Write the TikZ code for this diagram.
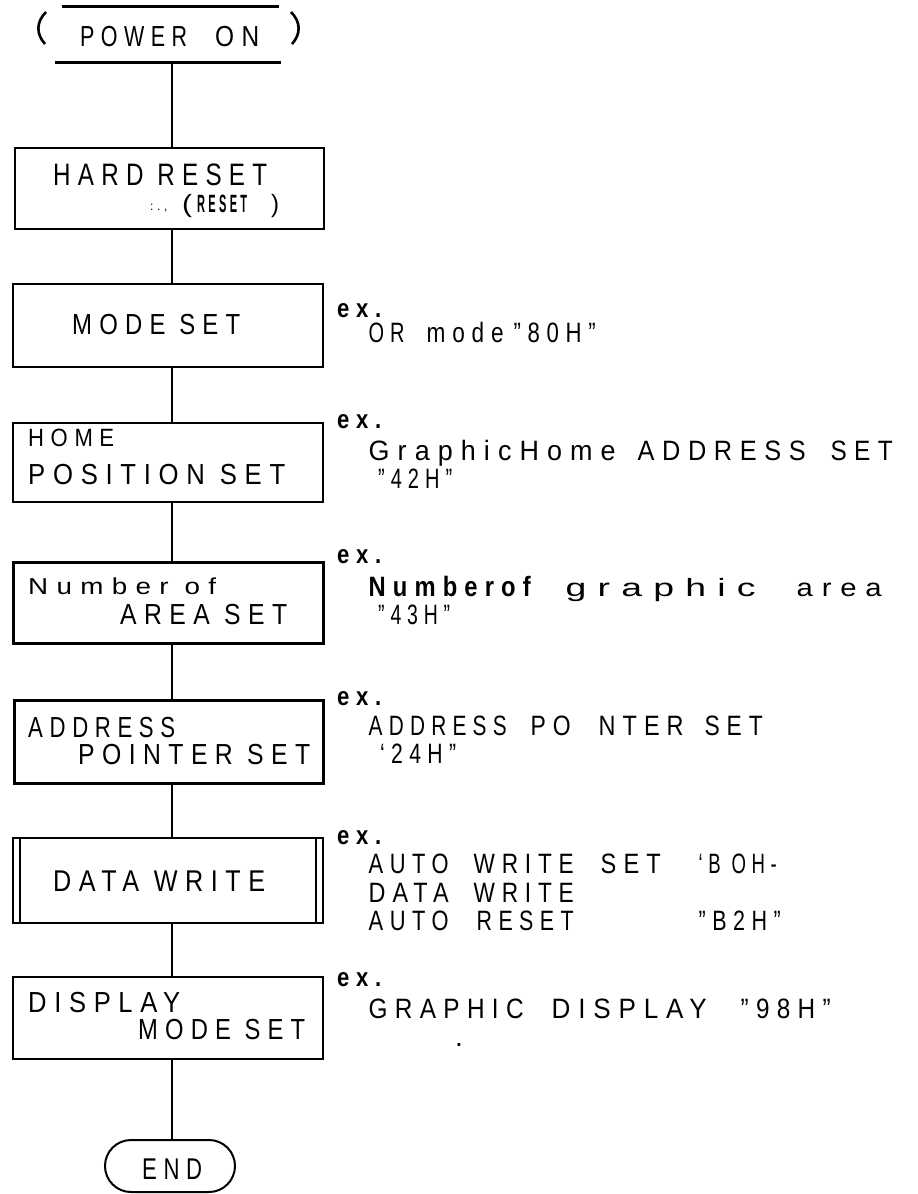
\documentclass[tikz,border=0pt]{standalone}
\usepackage{graphicx}
\usepackage{fontspec}
\setmainfont{Liberation Sans}[LetterSpace=30]
\newcommand\fw[2]{\resizebox{#1pt}{\height}{#2}}
\newcommand\wat[3]{\makebox[0pt][l]{\hspace{#1pt}\fw{#2}{#3}}}
\tikzset{
  flowbox/.style={draw, line width=2pt, inner sep=0pt, rectangle},
  heavybox/.style={flowbox, line width=3pt},
  ghost/.style={inner sep=0pt, rectangle},
  conn/.style={line width=2.2pt},
  bar/.style={line width=3.3pt},
  txt/.style={anchor=base west, inner sep=0pt, font=\fontsize{29}{31}\selectfont},
  ann/.style={anchor=base west, inner sep=0pt, font=\fontsize{28}{30}\selectfont},
  exlbl/.style={anchor=base west, inner sep=0pt, font=\bfseries\fontsize{26}{28}\selectfont},
}
\begin{document}
\begin{tikzpicture}[x=1pt,y=-1pt]
\useasboundingbox (0,0) rectangle (918,1194);
\coordinate (spine) at (172,0);

% boxes
\node[ghost, minimum width=226pt, minimum height=55pt] (pwr) at (168,34.5) {};
\node[flowbox, minimum width=309pt, minimum height=81pt] (hard) at (169.5,188.5) {};
\node[flowbox, minimum width=310pt, minimum height=83pt] (mode) at (168,325.5) {};
\node[flowbox, minimum width=310pt, minimum height=79pt] (home) at (168,462.5) {};
\node[heavybox, minimum width=310pt, minimum height=81pt] (area) at (168,602.5) {};
\node[heavybox, minimum width=309pt, minimum height=83pt] (addr) at (168.5,741.5) {};
\node[flowbox, minimum width=310pt, minimum height=85pt] (data) at (168,880.5) {};
\node[flowbox, minimum width=310pt, minimum height=82pt] (disp) at (168,1018) {};
\node[flowbox, rounded corners=26pt, minimum width=130pt, minimum height=52pt] (endb) at (170,1166) {};

% power on terminal
\draw[bar] ([xshift=7pt]pwr.north west) -- ([xshift=-2pt]pwr.north east);
\draw[bar] (pwr.south west) -- (pwr.south east);
\draw[line width=2.6pt] (46,12) .. controls (36,22) and (36,34) .. (45,44);
\draw[line width=2.6pt] (291,12) .. controls (301,22) and (301,34) .. (292,44);

% data write predefined-process bars
\draw[line width=1.5pt] ([xshift=8pt]data.north west) -- ([xshift=8pt]data.south west);
\draw[line width=1.5pt] ([xshift=-8pt]data.north east) -- ([xshift=-8pt]data.south east);

% connectors
\draw[conn] (pwr.south -| spine) -- (hard.north -| spine);
\draw[conn] (hard.south -| spine) -- (mode.north -| spine);
\draw[conn] (mode.south -| spine) -- (home.north -| spine);
\draw[conn] (home.south -| spine) -- (area.north -| spine);
\draw[conn] (area.south -| spine) -- (addr.north -| spine);
\draw[conn] (addr.south -| spine) -- (data.north -| spine);
\draw[conn] (data.south -| spine) -- (disp.north -| spine);
\draw[conn] (disp.south -| spine) -- (endb.north -| spine);

% box texts
\node[txt] (tpwr) at (80,46) {\fw{107}{POWER}\hspace{28pt}\fw{44}{ON}};
\node[txt, font=\fontsize{31}{33}\selectfont] (thard) at (53,185) {\fw{214}{HARD RESET}};
\node[anchor=base west, inner sep=0pt, font=\fontsize{12}{12}\selectfont] (tdots) at (150,210) {:.,};
\node[anchor=base west, inner sep=0pt, font=\fontsize{25}{27}\selectfont] (treset) at (182,212) {\fw{10}{(}\hspace{5pt}\fw{50}{\bfseries RESET}\hspace{24pt}\fw{8}{)}};
\node[txt] (tmode) at (72,334) {\fw{168}{MODE SET}};
\node[txt, font=\fontsize{25}{27}\selectfont] (thome1) at (28,446) {\fw{86}{HOME}};
\node[txt] (thome2) at (28,484) {\fw{257}{POSITION SET}};
\node[txt, font=\fontsize{23}{25}\selectfont] (tarea1) at (28,594) {\fw{188}{Number of}};
\node[txt] (tarea2) at (120,624) {\fw{167}{AREA SET}};
\node[txt] (taddr1) at (28,737) {\fw{147}{ADDRESS}};
\node[txt] (taddr2) at (78,764) {\fw{232}{POINTER SET}};
\node[txt, font=\fontsize{30}{32}\selectfont] (tdata) at (53,891) {\fw{212}{DATA WRITE}};
\node[txt] (tdisp1) at (28,1012) {\fw{152}{DISPLAY}};
\node[txt] (tdisp2) at (138,1039) {\fw{167}{MODE SET}};
\node[txt, font=\fontsize{30}{32}\selectfont] (tend) at (142,1179) {\fw{60}{END}};

% annotations
\node[exlbl] (ex1) at (337,317) {\fw{44}{ex.}};
\node[exlbl] (ex2) at (337,428) {\fw{44}{ex.}};
\node[exlbl] (ex3) at (337,563) {\fw{44}{ex.}};
\node[exlbl] (ex4) at (337,705) {\fw{44}{ex.}};
\node[exlbl] (ex5) at (337,844) {\fw{44}{ex.}};
\node[exlbl] (ex6) at (337,986) {\fw{44}{ex.}};

\node[ann] (a1) at (368,342) {\wat{0}{36}{OR}\wat{58}{77}{mode}\wat{145}{82}{"80H"}\hspace{227pt}};
\node[ann] (a2) at (368,460) {\wat{0}{247}{GraphicHome}\wat{269}{168}{ADDRESS}\wat{462}{62}{SET}\hspace{524pt}};
\node[ann] (a3) at (378,488) {\fw{74}{"42H"}};
\node[ann] (a4) at (368,596) {\wat{0}{162}{\bfseries Numberof}\wat{197}{190}{\fontsize{25}{27}\selectfont graphic}\wat{428}{85}{\fontsize{25}{27}\selectfont area}\hspace{513pt}};
\node[ann] (a5) at (378,624) {\fw{72}{"43H"}};
\node[ann] (a6) at (368,735) {\wat{0}{138}{ADDRESS}\wat{162}{40}{PO}\wat{230}{85}{NTER}\wat{336}{58}{SET}\hspace{394pt}};
\node[ann] (a7) at (380,763) {\fw{76}{`24H''}};
\node[ann] (a8) at (368,873) {\wat{0}{80}{AUTO}\wat{105}{100}{WRITE}\wat{232}{60}{SET}\wat{330}{78}{`B OH-}\hspace{408pt}};
\node[ann] (a9) at (368,902) {\wat{0}{80}{DATA}\wat{105}{100}{WRITE}\hspace{205pt}};
\node[ann] (a10) at (368,930) {\wat{0}{80}{AUTO}\wat{108}{97}{RESET}\wat{330}{82}{"B2H"}\hspace{412pt}};
\node[ann] (a11) at (368,1018) {\wat{0}{155}{GRAPHIC}\wat{183}{155}{DISPLAY}\wat{372}{90}{"98H"}\hspace{462pt}};
\node[ann] (adot) at (455,1046) {.};
\end{tikzpicture}
\end{document}
